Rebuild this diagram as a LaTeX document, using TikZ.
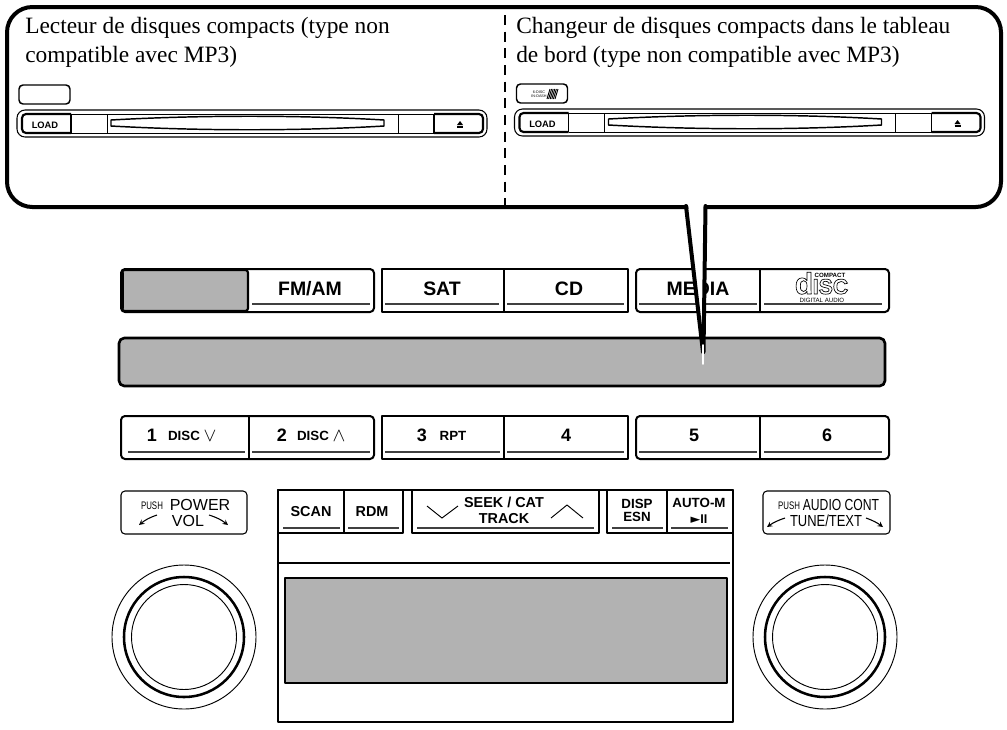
\documentclass[tikz,border=0pt]{standalone}
\usepackage{amsmath}
\usepackage{amssymb}
\usepackage{fontspec}
\setmainfont{Liberation Serif}
\setsansfont{Liberation Sans}
\newfontfamily\symfont{DejaVu Sans}
\definecolor{panelgray}{HTML}{B2B2B2}
\tikzset{
  capt/.style={inner sep=0,anchor=base west,font=\rmfamily\fontsize{17.55}{20}\selectfont},
  lab/.style={inner sep=0,anchor=base,font=\sffamily\bfseries\fontsize{14.6}{17}\selectfont},
  keylab/.style={inner sep=0,anchor=base,font=\sffamily\bfseries\fontsize{10.8}{13}\selectfont},
  midlab/.style={inner sep=0,anchor=base,font=\sffamily\bfseries\fontsize{10}{12}\selectfont},
  thinlab/.style={inner sep=0,anchor=base,font=\sffamily\fontsize{12}{14}\selectfont},
  tinylab/.style={inner sep=0,anchor=base,font=\sffamily\fontsize{8.2}{10}\selectfont},
  numlab/.style={inner sep=0,anchor=base,font=\sffamily\bfseries\fontsize{13.5}{16}\selectfont},
  disclab/.style={inner sep=0,anchor=base,font=\sffamily\bfseries\fontsize{10}{11}\selectfont},
  loadlab/.style={inner sep=0,anchor=base,font=\sffamily\bfseries\fontsize{7}{8}\selectfont},
  vee/.style={inner sep=0,anchor=base,font=\fontsize{14}{15}\selectfont},
  group/.style={line width=1.5pt,line join=round},
  rule/.style={line width=.8pt,black!75},
  screen/.style={fill=panelgray,line width=2pt,line join=round},
  tag/.style={line width=.8pt,rounded corners=3pt},
}
\begin{document}
\begin{tikzpicture}[x=0.75pt,y=-0.75pt]
\useasboundingbox (0,0) rectangle (1007,729);
% top row
\draw[group,rounded corners=3pt] (636,269) rectangle (889,312);
\draw[group,rounded corners=3pt] (250,269) -- (121,269) -- (121,312) -- (374,312) -- (374,269) -- (250,269);
\draw[group] (382,269) rectangle (628,312);
\draw[screen,line width=1.6pt,rounded corners=2pt] (122,270) -- (122,311) -- (248,311) -- (248,270) -- cycle;
\draw[line width=2.4pt,line cap=round] (122,273) -- (122,308);
\draw[line width=1pt] (504,269) -- (504,312);
\draw[line width=1pt] (760,269) -- (760,312);
\foreach \a/\b in {252/370,385/499,507/624,639/757,764/882}
  \draw[rule] (\a,304) -- (\b,304);
\draw (310,295) node[lab] (fmam) {FM/AM};
\draw (442,295) node[lab] (sat) {SAT};
\draw (569,295) node[lab] (cd) {CD};
\draw (698,295) node[lab] (media) {MEDIA};
% disc logo
\draw (804,294) node[inner sep=0,anchor=base,font=\sffamily\bfseries\fontsize{22.5}{24}\selectfont] (discd)
  {\special{pdf:code 1 Tr 0.5 w}d\special{pdf:code 0 Tr}};
\draw (830.5,294) node[inner sep=0,anchor=base,font=\sffamily\bfseries\fontsize{16}{18}\selectfont] (discisc)
  {\special{pdf:code 1 Tr 0.5 w}ISC\special{pdf:code 0 Tr}};
\draw (830,277) node[inner sep=0,anchor=base,font=\sffamily\bfseries\fontsize{4.6}{5}\selectfont] (compact) {COMPACT};
\draw (822,302) node[inner sep=0,anchor=base,font=\sffamily\fontsize{4.6}{5}\selectfont] (digital) {DIGITAL AUDIO};
% gray band
\draw[screen,rounded corners=4pt] (119,338) rectangle (885,386);
% number row
\draw[group,rounded corners=3pt] (121,416) rectangle (374,459);
\draw[group] (382,416) rectangle (628,459);
\draw[group,rounded corners=3pt] (636,416) rectangle (889,459);
\foreach \a in {249,504,760}
  \draw[line width=1pt] (\a,416) -- (\a,459);
\foreach \a/\b in {128/245,252/370,385/500,507/624,639/757,764/882}
  \draw[rule] (\a,452) -- (\b,452);
\draw (152,441) node[numlab] (one) {1};
\draw (184,440) node[disclab] (discdn) {DISC};
\draw (210,441) node[vee] (dn) {$\vee$};
\draw (282,441) node[numlab] (two) {2};
\draw (313,440) node[disclab] (discup) {DISC};
\draw (339,441) node[vee] (up) {$\wedge$};
\draw (422,441) node[numlab] (three) {3};
\draw (453,440) node[disclab] (rpt) {RPT};
\draw (566,441) node[numlab] (four) {4};
\draw (694,441) node[numlab] (five) {5};
\draw (827,441) node[numlab] (six) {6};
% knobs
\foreach \cx in {184,825} {
  \draw[line width=.7pt] (\cx,637) circle[radius=72];
  \draw[line width=1.9pt] (\cx,637) circle[radius=60];
  \draw[line width=.7pt] (\cx,637) circle[radius=52.5];
}
% tags above the knobs
\draw[tag] (121,491) rectangle (247,534);
\draw[tag] (763,491) rectangle (890,534);
\draw (152,509) node[tinylab] (pushl) {\scalebox{.72}[1]{PUSH}};
\draw (200,510) node[thinlab] (power) {POWER};
\draw (188,526) node[thinlab] (vol) {VOL};
\draw[-stealth,line width=.8pt] (157,515) to[bend right=10] (139,525);
\draw[-stealth,line width=.8pt] (209,515) to[bend left=10] (228,525);
\draw (789,509) node[tinylab] (pushr) {\scalebox{.72}[1]{PUSH}};
\draw (841,510) node[thinlab] (audio) {\scalebox{.76}[1]{AUDIO CONT}};
\draw (826,526) node[thinlab] (tune) {\scalebox{.81}[1]{TUNE/TEXT}};
\draw[-stealth,line width=.8pt] (785,518) to[bend right=8] (767,527);
\draw[-stealth,line width=.8pt] (866,518) to[bend left=8] (883,527);
% centre panel
\draw[group] (278,490) rectangle (733,722);
\draw[group,fill=white] (278,490) rectangle (403,533);
\draw[group,fill=white] (412,490) rectangle (599,533);
\draw[group,fill=white] (607,490) rectangle (733,533);
\foreach \a in {344,667}
  \draw[line width=1pt] (\a,490) -- (\a,533);
\foreach \a/\b in {283/340,348/399,417/594,612/663,671/728}
  \draw[rule] (\a,528) -- (\b,528);
\draw[line width=.8pt] (279,563) -- (730,563);
\draw[screen] (285,578) rectangle (727,683);
\draw (311,516) node[keylab] (scan) {SCAN};
\draw (372,516) node[keylab] (rdm) {RDM};
\draw (504,507) node[keylab] (seek) {SEEK / CAT};
\draw (504,523) node[keylab] (track) {TRACK};
\draw (637,508) node[midlab] (disp) {DISP};
\draw (637,521) node[midlab] (esn) {ESN};
\draw (699,507) node[midlab] (auto) {AUTO-M};
\draw (699,523) node[inner sep=0,anchor=base,font=\symfont\fontsize{9.5}{10}\selectfont] (play) {►\textbf{\sffamily II}};
\draw[line width=.7pt] (427,506) -- (442,518) -- (458,506);
\draw[line width=.7pt] (551,518) -- (567,505) -- (583,518);
% callout with its pointer, over the MEDIA label
\draw[fill=white,line width=3pt,rounded corners=19pt] (7,7) rectangle (1001,207);
\fill[white] (688,204) -- (704.5,204) -- (703.5,360) -- cycle;
\draw[line width=3pt,line cap=round] (686,206) -- (703,352);
\draw[line width=3pt,line cap=round] (705.5,206) -- (703.5,352);
\draw[white,line width=1.2pt,line cap=round] (703,345) -- (703,364);
\draw[dashed,line width=1.5pt,dash pattern=on 7.5pt off 5pt] (505,15) -- (505,205);
\draw (25,33) node[capt] (leftone) {Lecteur de disques compacts (type non};
\draw (25,62) node[capt] (lefttwo) {compatible avec MP3)};
\draw (516,33) node[capt] (rightone) {Changeur de disques compacts dans le tableau};
\draw (516,62) node[capt] (righttwo) {de bord (type non compatible avec MP3)};
% load strips
\foreach \dx/\dy/\n in {0/0/l,497.5/-1/r} {
  \begin{scope}[shift={(\dx*0.75pt,\dy*-0.75pt)}]
  \draw[tag,line width=1.1pt] (19,85) rectangle (70,104);
  \draw[line width=.8pt,rounded corners=6pt] (17,110) rectangle (487,137);
  \draw[line width=.7pt] (71,114) -- (434,114);
  \draw[line width=.7pt] (71,133) -- (434,133);
  \draw[line width=1.6pt,rounded corners=3pt] (71,114) -- (22,114) -- (22,133) -- (71,133);
  \draw[line width=1.6pt,rounded corners=3pt] (434,114) -- (483,114) -- (483,133) -- (434,133);
  \draw[line width=1.2pt] (71,114) -- (71,133);
  \draw[line width=.7pt] (107,114) -- (107,133);
  \draw[line width=.7pt] (398,114) -- (398,133);
  \draw[line width=1.2pt] (434,114) -- (434,133);
  \draw[line width=1.1pt,line join=round] (111,120) .. controls (200,115) and (300,115) .. (384,120)
    -- (384,126) .. controls (300,131) and (200,131) .. (111,126) -- cycle;
  \draw (45,128) node[loadlab] (load\n) {LOAD};
  \fill (457,125) -- (460,121) -- (463,125) -- cycle;
  \draw[line width=.8pt] (457,127) -- (463,127);
  \end{scope}
}
% six disc badge
\draw (539,93) node[inner sep=0,anchor=base,font=\sffamily\fontsize{2.8}{3}\selectfont] (sixdisc) {6-DISC};
\draw (539,97) node[inner sep=0,anchor=base,font=\sffamily\fontsize{2.8}{3}\selectfont] (indash) {IN-DASH};
\foreach \a in {547,548.6,...,556}
  \draw[line width=.7pt] (\a,99) -- (\a+3,89);
\end{tikzpicture}
\end{document}
